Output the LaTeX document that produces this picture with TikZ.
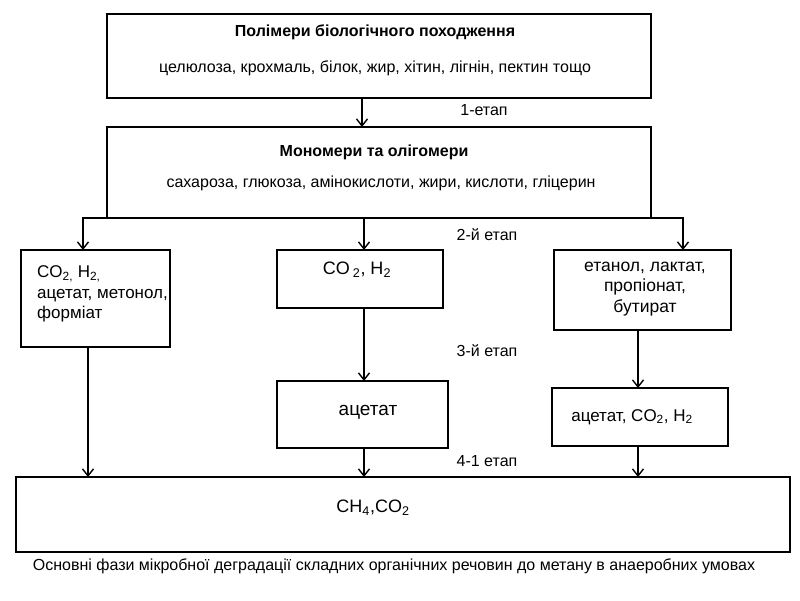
\documentclass[tikz,border=0pt]{standalone}
\usepackage{fontspec}
\setmainfont{Liberation Sans}
\usetikzlibrary{arrows.meta}
\begin{document}
\begin{tikzpicture}[x=1pt,y=-1pt,
  box/.style={draw, line width=1.8pt, anchor=north west, inner sep=0pt, outer sep=0pt},
  arr/.style={line width=1.4pt, -{Straight Barb[length=7pt,width=11pt,line width=1.4pt]}},
  txt/.style={inner sep=0pt, font=\fontsize{16}{19}\selectfont},
  btxt/.style={inner sep=0pt, font=\bfseries\fontsize{16}{19}\selectfont},
  ltxt/.style={inner sep=0pt, font=\fontsize{17}{20.5}\selectfont},
  lbl/.style={inner sep=0pt, font=\fontsize{16}{19}\selectfont}]
\useasboundingbox (0,0) rectangle (800,600);
% boxes
\node[box, minimum width=544pt, minimum height=84pt] (poly) at (107,14) {};
\node[box, minimum width=544pt, minimum height=91pt] (mono) at (107,127) {};
\node[box, minimum width=149pt, minimum height=97pt] (lbox) at (21,250) {};
\node[box, minimum width=166pt, minimum height=58pt] (mid) at (277,250) {};
\node[box, minimum width=177pt, minimum height=80pt] (rbox) at (554,250) {};
\node[box, minimum width=171pt, minimum height=67pt] (acbox) at (277,381) {};
\node[box, minimum width=176pt, minimum height=58pt] (ac2box) at (552,388) {};
\node[box, minimum width=774pt, minimum height=75pt] (bot) at (16,477) {};
% texts
\node[btxt] (polyT) at (375,32) {Полімери біологічного походження};
\node[txt] (polyS) at (375,68) {целюлоза, крохмаль, білок, жир, хітин, лігнін, пектин тощо};
\node[btxt] (monoT) at (374,152) {Мономери та олігомери};
\node[txt] (monoS) at (381,183) {сахароза, глюкоза, амінокислоти, жири, кислоти, гліцерин};
\node[ltxt, align=left, anchor=west] (lboxT) at (37,294) {CO\textsubscript{2,} H\textsubscript{2,}\\ацетат, метонол,\\форміат};
\node[ltxt, font=\fontsize{18}{20}\selectfont] (midT) at (357,270) {CO\,\textsubscript{2}, H\textsubscript{2}};
\node[ltxt, font=\fontsize{17.5}{20.5}\selectfont, align=center] (rboxT) at (645,289) {етанол, лактат,\\пропіонат,\\бутират};
\node[ltxt, font=\fontsize{19}{20}\selectfont] (acT) at (368,412) {ацетат};
\node[ltxt] (ac2T) at (632,417) {ацетат, CO\textsubscript{2}, H\textsubscript{2}};
\node[ltxt, font=\fontsize{18}{20}\selectfont] (botT) at (373,508) {CH\textsubscript{4},CO\textsubscript{2}};
\node[inner sep=0pt, font=\fontsize{16}{20}\selectfont] (cap) at (394,566) {Основні фази мікробної деградації складних органічних речовин до метану в анаеробних умовах};
% stage labels
\node[lbl] (s1) at (484,110) {1-етап};
\node[lbl] (s2) at (487,235) {2-й етап};
\node[lbl] (s3) at (487,351) {3-й етап};
\node[lbl] (s4) at (487,461) {4-1 етап};
% connectors
\draw[arr] ([xshift=255pt]poly.south west) -- ([xshift=255pt]mono.north west);
\draw[arr] (mono.south west) -| ([xshift=62pt]lbox.north west);
\draw[arr] ([xshift=257pt]mono.south west) -- ([xshift=87pt]mid.north west);
\draw[arr] (mono.south east) -| ([xshift=129pt]rbox.north west);
\draw[arr] ([xshift=67pt]lbox.south west) -- ([xshift=72pt]bot.north west);
\draw[arr] ([xshift=87pt]mid.south west) -- ([xshift=87pt]acbox.north west);
\draw[arr] ([xshift=87pt]acbox.south west) -- ([xshift=348pt]bot.north west);
\draw[arr] ([xshift=84pt]rbox.south west) -- ([xshift=86pt]ac2box.north west);
\draw[arr] ([xshift=86pt]ac2box.south west) -- ([xshift=622pt]bot.north west);
\end{tikzpicture}
\end{document}
